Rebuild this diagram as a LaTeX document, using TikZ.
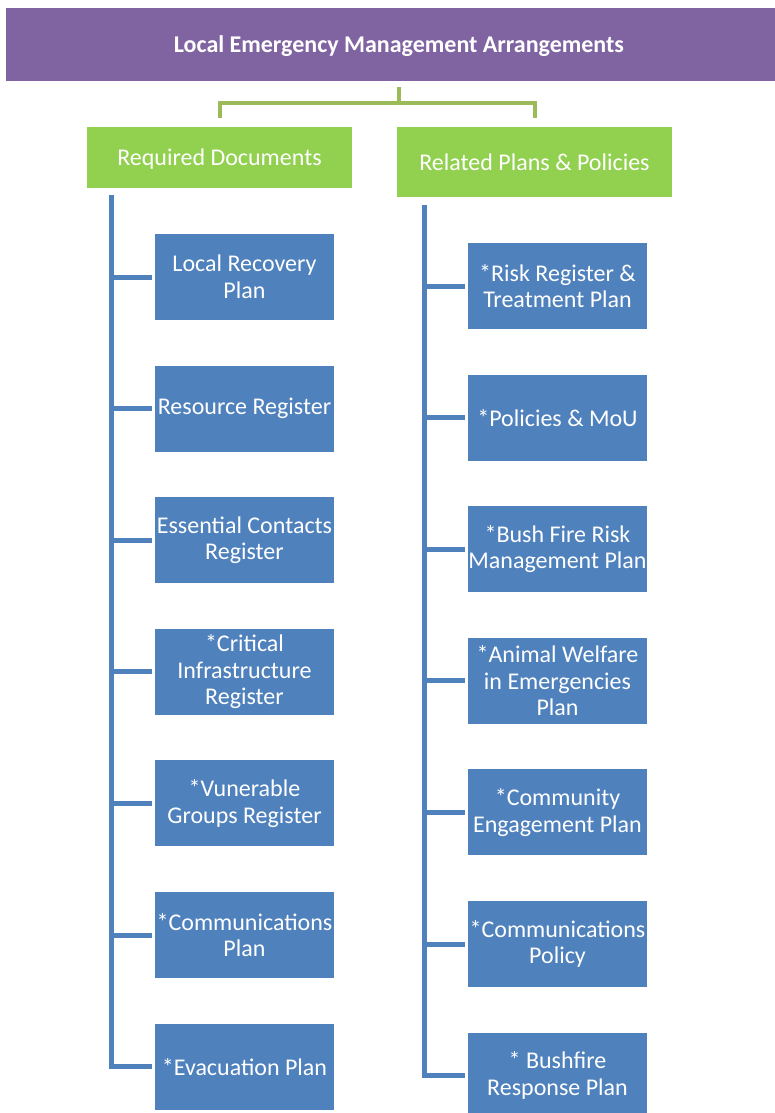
\documentclass[tikz,border=0pt]{standalone}
\usepackage{fontspec}
\setmainfont{Carlito}
\usepackage{xcolor}
\usetikzlibrary{positioning}
\definecolor{hdpurple}{HTML}{8064A2}
\definecolor{grpgreen}{HTML}{92D050}
\definecolor{treegreen}{HTML}{9BBB59}
\definecolor{docblue}{HTML}{4F81BD}

\begin{document}
\begin{tikzpicture}[
    x=1pt, y=-1pt,
    header/.style={fill=hdpurple, text=white, inner sep=0pt, text depth=0pt,
        font=\bfseries\fontsize{24}{28}\selectfont,
        minimum width=786pt, minimum height=73pt},
    group/.style={fill=grpgreen, text=white, inner sep=0pt,
        font=\fontsize{24}{28}\selectfont, minimum height=61pt},
    doc/.style={fill=docblue, text=white, inner sep=0pt, align=center,
        font=\fontsize{24}{26.5}\selectfont,
        minimum width=179pt, minimum height=86pt},
    greenline/.style={draw=treegreen, line width=4pt},
    blueline/.style={draw=docblue, line width=5pt}
]
\useasboundingbox (0,0) rectangle (775,1113);

% ---- header ----
\node[header] (top) at (399,44.5) {Local Emergency Management Arrangements};

% ---- two groups ----
\node[group, minimum width=265pt, text depth=0pt] (req) at (219.5,157.5) {Required Documents};
\node[group, minimum width=275pt, minimum height=70pt] (rel) at (534.5,162) {Related Plans \& Policies};

\draw[greenline] ([yshift=-6pt]top.south) -- ++(0,16) coordinate (fork);
\draw[greenline] ([yshift=9pt]req.north) |- (fork) -| ([yshift=9pt]rel.north);

% ---- required documents ----
\foreach \i/\txt in {1/{Local Recovery\\Plan}, 2/{Resource Register},
    3/{Essential Contacts\\Register}, 4/{*Critical\\Infrastructure\\Register},
    5/{*Vunerable\\Groups Register}, 6/{*Communications\\Plan},
    7/{*Evacuation Plan}} {
    \node[doc] (l\i) at (244.5,{277+131.6*(\i-1)}) {\txt};
}
\coordinate (spineL) at ([xshift=25pt,yshift=-7pt]req.south west);
\draw[blueline] (spineL) |- ([xshift=-3pt]l7.west);
\foreach \i in {1,...,6}
    \draw[blueline] (spineL |- l\i.west) -- ([xshift=-3pt]l\i.west);

% ---- related plans & policies ----
\foreach \i/\txt in {1/{*Risk Register \&\\Treatment Plan}, 2/{*Policies \& MoU},
    3/{*Bush Fire Risk\\Management Plan}, 4/{*Animal Welfare\\in Emergencies\\Plan},
    5/{*Community\\Engagement Plan}, 6/{*Communications\\Policy},
    7/{* Bushfire\\Response Plan}} {
    \node[doc] (r\i) at (557.5,{286+131.6*(\i-1)}) {\txt};
}
\coordinate (spineR) at ([xshift=28pt,yshift=-8pt]rel.south west);
\draw[blueline] (spineR) |- ([xshift=-3pt]r7.west);
\foreach \i in {1,...,6}
    \draw[blueline] (spineR |- r\i.west) -- ([xshift=-3pt]r\i.west);

\end{tikzpicture}
\end{document}
